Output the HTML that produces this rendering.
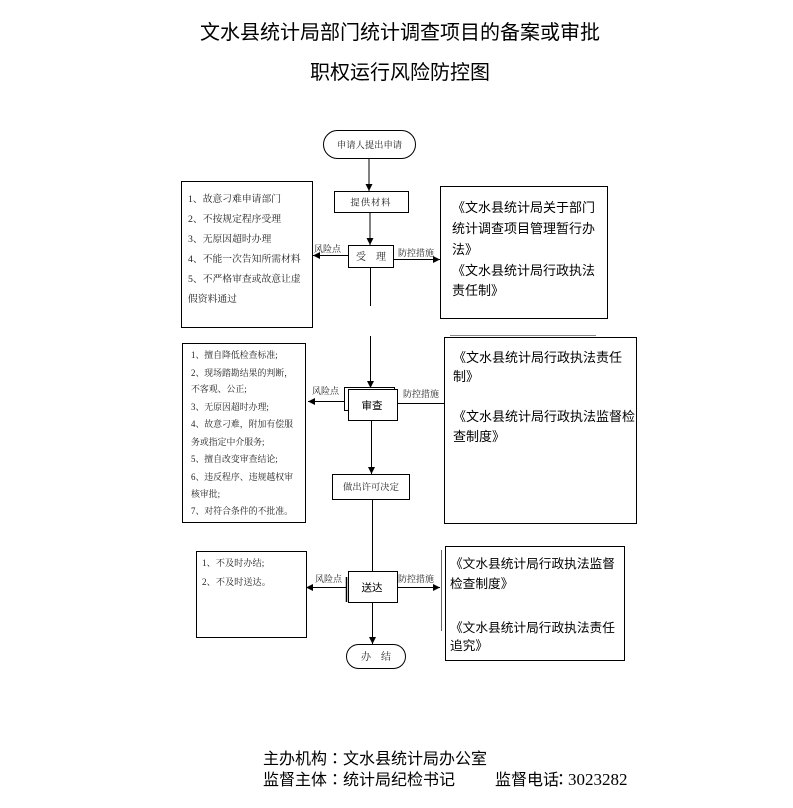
<!DOCTYPE html>
<html><head><meta charset="utf-8">
<style>
html,body{margin:0;padding:0;background:#fff;}
body{width:793px;height:808px;position:relative;overflow:hidden;}
svg{position:absolute;left:0;top:0;}
.t{font-family:"Liberation Sans","Noto Sans CJK SC",sans-serif;fill:#000;}
.s{font-family:"Liberation Serif","Noto Serif CJK SC",serif;fill:#222;}
.n{font-family:"Liberation Serif",serif;fill:#000;}
.c{font-family:"Noto Sans CJK TC",sans-serif;}
</style></head><body>
<svg width="793" height="808" viewBox="0 0 793 808" xmlns="http://www.w3.org/2000/svg">
<defs>
<marker id="ah" markerWidth="8" markerHeight="8" refX="7" refY="4" orient="auto" markerUnits="userSpaceOnUse">
<path d="M0,0.5 L7,4 L0,7.5 Z" fill="#000"/>
</marker>
</defs>

<!-- Title -->
<text class="t" x="400" y="39" font-size="20" text-anchor="middle">文水县统计局部门统计调查项目的备案或审批</text>
<text class="t" x="400" y="79" font-size="20" text-anchor="middle">职权运行风险防控图</text>

<g stroke="#000" stroke-width="1" fill="none">
<!-- start oval -->
<rect x="323.5" y="130.5" width="92" height="28" rx="14" ry="14" fill="#fff"/>
<line x1="369" y1="158.5" x2="369" y2="191" marker-end="url(#ah)"/>
<!-- 提供材料 -->
<rect x="334.5" y="191.5" width="74" height="21" fill="#fff"/>
<line x1="370" y1="212.5" x2="370" y2="245" marker-end="url(#ah)"/>
<!-- 受理 -->
<rect x="348.5" y="245.5" width="45" height="22" fill="#fff"/>
<line x1="370.5" y1="267.5" x2="370.5" y2="306"/>
<line x1="370.5" y1="336" x2="370.5" y2="388" marker-end="url(#ah)"/>
<!-- 受理 risk / control -->
<line x1="348" y1="255.5" x2="313" y2="255.5" marker-end="url(#ah)"/>
<line x1="393.5" y1="259.5" x2="440" y2="259.5" marker-end="url(#ah)"/>

<!-- 审查 -->
<rect x="344.5" y="387.5" width="50" height="23" fill="#fff"/>
<rect x="348.5" y="389.5" width="49" height="31" fill="#fff"/>
<line x1="344" y1="401.5" x2="308" y2="401.5" marker-end="url(#ah)"/>
<line x1="397.5" y1="403.5" x2="444" y2="403.5"/>
<line x1="371.5" y1="420.5" x2="371.5" y2="474" marker-end="url(#ah)"/>
<!-- 做出许可决定 -->
<rect x="332.5" y="474.5" width="77" height="25" fill="#fff"/>
<line x1="372.5" y1="499.5" x2="372.5" y2="571"/>
<!-- 送达 -->
<rect x="348.5" y="571.5" width="49" height="31" fill="#fff"/>
<line x1="346.5" y1="577" x2="346.5" y2="602" stroke-width="1.5"/>
<line x1="346" y1="587.5" x2="306" y2="587.5" marker-end="url(#ah)"/>
<line x1="397.5" y1="587.5" x2="440" y2="587.5" marker-end="url(#ah)"/>
<line x1="372.5" y1="602.5" x2="372.5" y2="644" marker-end="url(#ah)"/>
<!-- 办结 -->
<rect x="346.5" y="644.5" width="59" height="24" rx="12" ry="12" fill="#fff"/>

<!-- left boxes -->
<rect x="181.5" y="181.5" width="131" height="146"/>
<rect x="182.5" y="343.5" width="123" height="179"/>
<rect x="196.5" y="551.5" width="110" height="86"/>

<!-- right boxes -->
<rect x="440.5" y="186.5" width="167" height="132"/>
<line x1="450" y1="335.5" x2="596" y2="335.5" stroke="#888"/>
<rect x="444.5" y="337.5" width="192" height="186"/>
<line x1="441.5" y1="550" x2="441.5" y2="631" stroke="#666"/>
<rect x="445.5" y="546.5" width="179" height="114"/>
</g>

<!-- node texts -->
<g class="s" font-size="9.3" text-anchor="middle">
<text x="369.5" y="148">申请人提出申请</text>
<text x="371" y="205.5" letter-spacing="1">提供材料</text>
<text x="371" y="260" font-size="10">受　理</text>
<text x="371" y="490">做出许可决定</text>
<text x="376" y="660" font-size="10">办　结</text>
</g>
<text class="t" x="372" y="409" font-size="10.5" text-anchor="middle">审查</text>
<text class="t" x="372" y="591" font-size="10.5" text-anchor="middle">送达</text>

<!-- labels -->
<g class="s" font-size="9">
<text x="314" y="252">风险点</text>
<text x="398" y="256">防控措施</text>
<text x="312" y="394">风险点</text>
<text x="403" y="397">防控措施</text>
<text x="315" y="582">风险点</text>
<text x="398" y="582">防控措施</text>
</g>

<!-- left box 1 -->
<g class="s" font-size="9.8" fill="#222">
<text x="188" y="202">1、故意刁难申请部门</text>
<text x="188" y="222">2、不按规定程序受理</text>
<text x="188" y="242">3、无原因超时办理</text>
<text x="188" y="262">4、不能一次告知所需材料</text>
<text x="188" y="282">5、不严格审查或故意让虚</text>
<text x="188" y="302">假资料通过</text>
</g>

<!-- left box 2 -->
<g class="s" font-size="8.9" fill="#222">
<text x="191" y="358">1、擅自降低检查标准;</text>
<text x="191" y="376">2、现场踏勘结果的判断，</text>
<text x="191" y="392">不客观、公正;</text>
<text x="191" y="410">3、无原因超时办理;</text>
<text x="191" y="427">4、故意刁难，附加有偿服</text>
<text x="191" y="445">务或指定中介服务;</text>
<text x="191" y="462">5、擅自改变审查结论;</text>
<text x="191" y="480">6、违反程序、违规越权审</text>
<text x="191" y="497">核审批;</text>
<text x="191" y="514">7、对符合条件的不批准。</text>
</g>

<!-- left box 3 -->
<g class="s" font-size="9.2" fill="#222">
<text x="202" y="566">1、不及时办结;</text>
<text x="202" y="585">2、不及时送达。</text>
</g>

<!-- right box 1 -->
<g class="t" font-size="13">
<text x="452" y="212">《文水县统计局关于部门</text>
<text x="452" y="233">统计调查项目管理暂行办</text>
<text x="452" y="254">法》</text>
<text x="452" y="275">《文水县统计局行政执法</text>
<text x="452" y="295">责任制》</text>
</g>

<!-- right box 2 -->
<g class="t" font-size="13">
<text x="453" y="362">《文水县统计局行政执法责任</text>
<text x="453" y="381">制》</text>
<text x="453" y="421">《文水县统计局行政执法监督检</text>
<text x="453" y="441">查制度》</text>
</g>

<!-- right box 3 -->
<g class="t" font-size="12.7">
<text x="450" y="568">《文水县统计局行政执法监督</text>
<text x="450" y="588">检查制度》</text>
<text x="450" y="632">《文水县统计局行政执法责任</text>
<text x="450" y="650">追究》</text>
</g>

<!-- footer -->
<g class="t" font-size="16">
<text x="263" y="764">主办机构<tspan class="c">：</tspan>文水县统计局办公室</text>
<text x="263" y="785">监督主体<tspan class="c">：</tspan>统计局纪检书记</text>
<text x="495" y="785">监督电话</text>
<text x="553" y="785" class="c">：</text>
</g>
<text class="n" x="568" y="785" font-size="17">3023282</text>
</svg>
</body></html>
